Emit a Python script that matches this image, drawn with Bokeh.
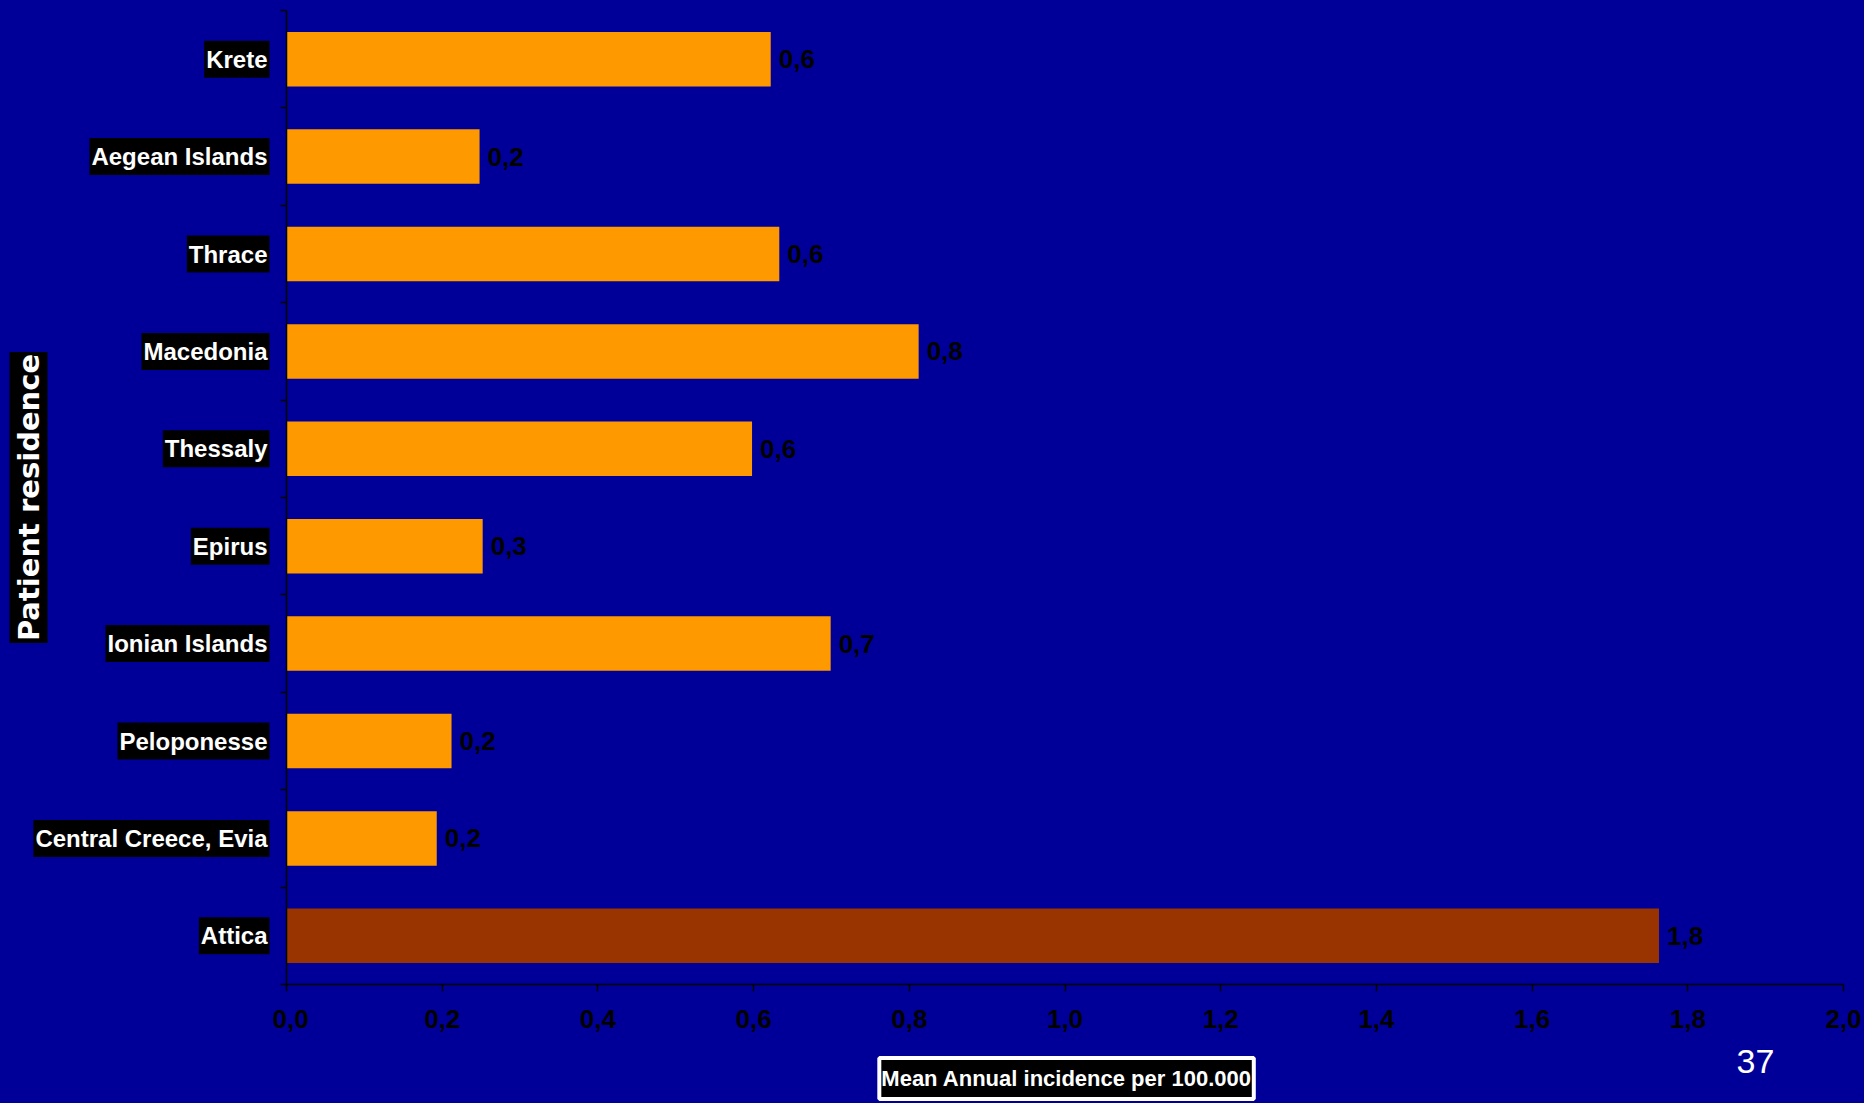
import math
from bokeh.plotting import figure
from bokeh.layouts import column, row
from bokeh.models import (ColumnDataSource, Range1d, LinearAxis,
                          FixedTicker, LabelSet)
from bokeh.core.properties import value
from bokeh.embed import file_html
from bokeh.resources import INLINE

# ---------------- data ----------------
regions = ["Krete", "Aegean Islands", "Thrace", "Macedonia", "Thessaly",
           "Epirus", "Ionian Islands", "Peloponesse", "Central Creece, Evia", "Attica"]
incidence = [0.622, 0.248, 0.633, 0.812, 0.598, 0.252, 0.699, 0.212, 0.193, 1.763]
value_labels = ["0,6", "0,2", "0,6", "0,8", "0,6", "0,3", "0,7", "0,2", "0,2", "1,8"]
bar_colors = ["#FF9900"] * 9 + ["#993300"]
x_ticks = [0.0, 0.2, 0.4, 0.6, 0.8, 1.0, 1.2, 1.4, 1.6, 1.8, 2.0]
x_tick_labels = ["0,0", "0,2", "0,4", "0,6", "0,8", "1,0", "1,2", "1,4", "1,6", "1,8", "2,0"]
x_title = "Mean Annual incidence per 100.000"
y_title = "Patient residence"
slide_number = "37"

BG = "#000099"
SANS = "Liberation Sans"

n = len(regions)
ypos = [n - i - 0.5 for i in range(n)]  # category slots, first region on top
y_bounds = list(range(n + 1))           # tick marks between the categories

src = ColumnDataSource(dict(region=regions, y=ypos, value=incidence,
                            vlabel=value_labels, color=bar_colors))

W_LEFT, H_TOP, W, H = 272, 1040, 1864, 1103
H_STRIP = H - H_TOP

xr = Range1d(0, 2.0)
yr = Range1d(0, n)

common = dict(output_backend="svg", toolbar_location=None,
              background_fill_color=None, border_fill_color=BG,
              outline_line_color=None, styles={"background-color": BG})

# ---------------- main chart ----------------
p = figure(width=W - W_LEFT, height=H_TOP, x_range=xr, y_range=yr,
           y_axis_location=None,
           min_border_left=14, min_border_right=21,
           min_border_top=10, min_border_bottom=56, **common)
p.xgrid.visible = False
p.ygrid.visible = False

yax = LinearAxis(ticker=FixedTicker(ticks=y_bounds),
                 major_label_overrides={t: "" for t in y_bounds},
                 major_label_standoff=0,
                 axis_line_color="black", axis_line_width=1.5,
                 major_tick_line_color="black", major_tick_line_width=1.5,
                 major_tick_out=6, major_tick_in=0,
                 minor_tick_line_color=None)
p.add_layout(yax, "left")

xax = p.xaxis[0]
xax.ticker = FixedTicker(ticks=x_ticks)
xax.major_label_overrides = dict(zip(x_ticks, x_tick_labels))
xax.major_label_text_font = SANS
xax.major_label_text_font_style = "bold"
xax.major_label_text_font_size = "26px"
xax.major_label_text_color = "black"
xax.major_label_standoff = 18
xax.axis_line_color = "black"
xax.axis_line_width = 1.5
xax.major_tick_line_color = "black"
xax.major_tick_line_width = 1.5
xax.major_tick_out = 7
xax.major_tick_in = 0
xax.minor_tick_line_color = None

p.hbar(y="y", left=0, right="value", height=0.56, fill_color="color",
       line_color=None, source=src)

vals = LabelSet(x="value", y="y", text="vlabel", source=src,
                x_offset=8, text_baseline="middle", text_align="left",
                text_font=value(SANS), text_font_style="bold",
                text_font_size="26px", text_color="black")
p.add_layout(vals)

# ---------------- left label panel ----------------
left = figure(width=W_LEFT, height=H_TOP, x_range=Range1d(0, W_LEFT), y_range=yr,
              x_axis_location=None, y_axis_location=None,
              min_border_left=0, min_border_right=0,
              min_border_top=10, min_border_bottom=56, **common)
left.xgrid.visible = False
left.ygrid.visible = False

left.text(x=W_LEFT - 3, y="y", text="region", source=src,
          text_align="right", text_baseline="middle",
          text_font=value(SANS), text_font_style="bold",
          text_font_size="24px", text_color="white",
          background_fill_color="black", padding=(2, 5))

left.text(x=[28], y=[n / 2], text=[y_title], angle=math.pi / 2,
          text_align="center", text_baseline="middle",
          text_font=value("DejaVu Sans"), text_font_style="bold",
          text_font_size="29px", text_color="white",
          background_fill_color="black", padding=2)

# ---------------- bottom strip ----------------
strip = figure(width=W, height=H_STRIP, x_range=xr, y_range=Range1d(0, H_STRIP),
               x_axis_location=None, y_axis_location=None,
               min_border_left=286, min_border_right=21,
               min_border_top=0, min_border_bottom=0, **common)
strip.xgrid.visible = False
strip.ygrid.visible = False

strip.text(x=[1.002], y=[25], text=[x_title],
           text_align="center", text_baseline="middle",
           text_font=value(SANS), text_font_style="bold",
           text_font_size="22px", text_color="white",
           background_fill_color="black", padding=(2, 8),
           border_line_color="white", border_line_width=4)

strip.text(x=[1.887], y=[H_STRIP - 21], text=[slide_number],
           text_align="center", text_baseline="middle",
           text_font=value(SANS), text_font_size="34px",
           text_color="white")

layout = column(row(left, p, styles={"background-color": BG}), strip,
                styles={"background-color": BG})
open("out.html", "w").write(file_html(layout, INLINE))
